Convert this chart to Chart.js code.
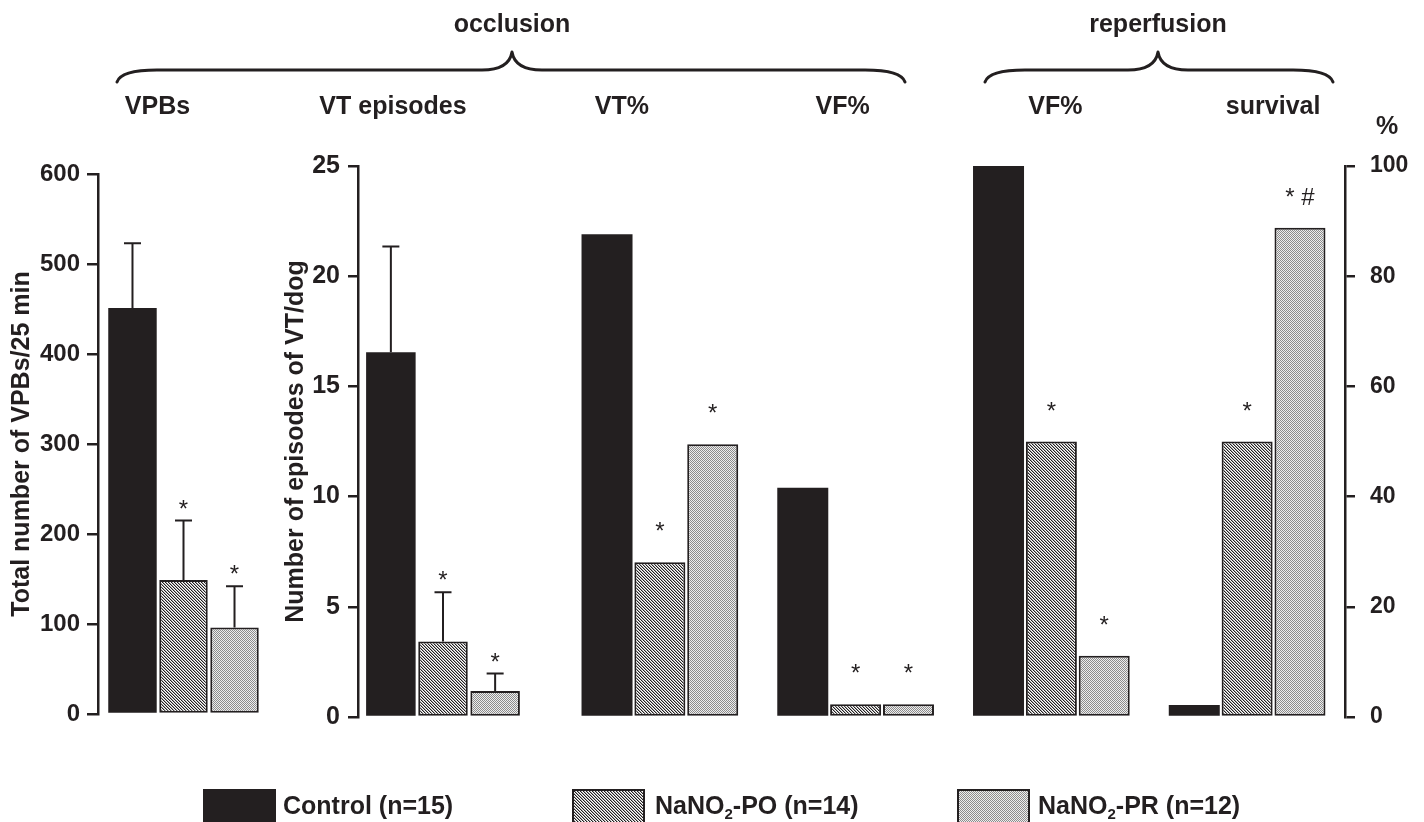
<!DOCTYPE html>
<html>
<head>
<meta charset="utf-8">
<script src="https://cdn.jsdelivr.net/npm/chart.js@4.4.1/dist/chart.umd.min.js"></script>
<style>
html,body{margin:0;padding:0;background:#fff;width:1424px;height:822px;overflow:hidden;position:relative;
  font-family:"Liberation Sans",Arial,Helvetica,sans-serif;color:#231f20}
canvas.chart{position:absolute;left:0;top:0}
.lgtxt{position:absolute;top:793px;font-weight:bold;font-size:25px;line-height:25px;white-space:nowrap}
.lgtxt sub{font-size:15px;vertical-align:-5px;line-height:0}
.sw{position:absolute;top:789px}
</style>
</head>
<body>
<canvas id="c1" class="chart" width="1424" height="822"></canvas>
<canvas id="c2" class="chart" width="1424" height="822"></canvas>
<canvas id="c3" class="chart" width="1424" height="822"></canvas>
<div id="legend"></div>
<script>
// ---------------- DATA ----------------
const seriesNames = ['Control (n=15)', 'NaNO₂-PO (n=14)', 'NaNO₂-PR (n=12)'];
const phaseLabels = ['occlusion', 'reperfusion'];

// VPBs panel (left axis 0-600)
const vpbCategories = ['VPBs'];
const vpbControl = [451];
const vpbPO = [149];
const vpbPR = [96];
const vpbSemControl = [72];
const vpbSemPO = [66];
const vpbSemPR = [46];
const vpbSigControl = [''];
const vpbSigPO = ['*'];
const vpbSigPR = ['*'];
const vpbTickMax = 600, vpbTickStep = 100;
const vpbTitle = 'Total number of VPBs/25 min';

// VT episodes panel (left axis 0-25)
const vtCategories = ['VT episodes'];
const vtControl = [16.55];
const vtPO = [3.42];
const vtPR = [1.18];
const vtSemControl = [4.8];
const vtSemPO = [2.24];
const vtSemPR = [0.79];
const vtSigControl = [''];
const vtSigPO = ['*'];
const vtSigPR = ['*'];
const vtTickMax = 25, vtTickStep = 5;
const vtTitle = 'Number of episodes of VT/dog';

// Percentage panel (right axis 0-100 %)
const pctCategories = ['VT%', 'VF%', 'VF%', 'survival'];
const pctControl = [87.6, 41.6, 100, 2.2];
const pctPO = [28.1, 2.3, 50, 50];
const pctPR = [49.5, 2.3, 11.1, 88.8];
const pctSigControl = ['', '', '', ''];
const pctSigPO = ['*', '*', '*', '*'];
const pctSigPR = ['*', '*', '*', '* #'];
const pctTickMax = 100, pctTickStep = 20;
const pctUnit = '%';

// ---------------- LAYOUT / STYLE ----------------
const INK = '#231f20';
const FONT = '"Liberation Sans", Arial, Helvetica, sans-serif';
const headerShift = [-26, -50, -38, -13, 4, 26];
const braces = [
  {x1: 117, x2: 905, xm: 512},
  {x1: 985, x2: 1333, xm: 1158}
];

Chart.defaults.font.family = FONT;
Chart.defaults.color = INK;

function makePattern(ctx, kind) {
  const t = document.createElement('canvas');
  const x = t.getContext('2d');
  if (kind === 'hatch') {
    t.width = 3; t.height = 3;
    x.fillStyle = '#ffffff'; x.fillRect(0, 0, 3, 3);
    for (let r = 0; r < 3; r++) {
      x.fillStyle = INK; x.fillRect(r, r, 1, 1);
      x.fillStyle = '#a8a8a8'; x.fillRect((r + 1) % 3, r, 1, 1);
    }
  } else {
    t.width = 2; t.height = 2;
    x.fillStyle = '#eeeeee'; x.fillRect(0, 0, 2, 2);
    x.fillStyle = '#8c8c8c'; x.fillRect(0, 0, 1, 1); x.fillRect(1, 1, 1, 1);
  }
  return ctx.createPattern(t, 'repeat');
}

function styles(ctx) {
  return [
    {bg: INK, bw: 0},
    {bg: makePattern(ctx, 'hatch'), bw: 2},
    {bg: makePattern(ctx, 'dots'), bw: 2}
  ];
}

function makeDatasets(ctx, values, sems, sigs, axisId) {
  const st = styles(ctx);
  return values.map((v, k) => ({
    label: seriesNames[k],
    data: v,
    sem: sems ? sems[k] : null,
    sig: sigs[k],
    backgroundColor: st[k].bg,
    borderColor: INK,
    borderWidth: st[k].bw,
    borderSkipped: false,
    yAxisID: axisId
  }));
}

function yAxis(max, step, cfg) {
  return {
    position: cfg.position || 'left',
    min: 0, max: max,
    ticks: {stepSize: step, font: {size: cfg.tickFont, weight: 'bold'}, color: INK, padding: cfg.tickPad},
    grid: {drawOnChartArea: false, drawTicks: true, tickLength: cfg.tickLen, tickWidth: 2.5,
           tickColor: INK, color: INK, lineWidth: 2.5},
    border: {display: true, width: 2.5, color: INK},
    title: cfg.title ? {display: true, text: cfg.title, color: INK,
                        font: {size: 25, weight: 'bold'}, padding: {top: cfg.titlePad, bottom: 0}}
                     : {display: false},
    afterFit: s => { s.width = cfg.width; }
  };
}

const annot = {
  id: 'annot',
  afterDatasetsDraw(chart) {
    const ctx = chart.ctx;
    ctx.save();
    chart.data.datasets.forEach((d, di) => {
      const meta = chart.getDatasetMeta(di);
      const ys = chart.scales[meta.yAxisID];
      d.data.forEach((v, i) => {
        const el = meta.data[i];
        if (!el) return;
        const x = el.x, yTop = el.y;
        let yRef = yTop, gap = 36;
        const e = d.sem ? d.sem[i] : 0;
        if (e) {
          const yE = ys.getPixelForValue(v + e);
          ctx.strokeStyle = INK; ctx.lineWidth = 2;
          ctx.beginPath();
          ctx.moveTo(x, yTop); ctx.lineTo(x, yE);
          ctx.moveTo(x - 8.5, yE); ctx.lineTo(x + 8.5, yE);
          ctx.stroke();
          yRef = yE; gap = 17;
        }
        const s = d.sig ? d.sig[i] : '';
        if (s) {
          ctx.fillStyle = INK;
          ctx.font = '24px ' + FONT;
          ctx.textAlign = 'center';
          ctx.textBaseline = 'alphabetic';
          ctx.fillText(s, x, yRef - gap + 13);
        }
      });
    });
    ctx.restore();
  }
};

function baseOptions(padding, yScales, catPct, barPct) {
  return {
    responsive: false,
    animation: false,
    devicePixelRatio: 1,
    layout: {padding: padding},
    plugins: {legend: {display: false}, tooltip: {enabled: false}, title: {display: false}},
    datasets: {bar: {categoryPercentage: catPct, barPercentage: barPct}},
    scales: Object.assign({x: {display: false, offset: true}}, yScales)
  };
}

// ---------------- CHART 1: VPBs ----------------
const ctx1 = document.getElementById('c1').getContext('2d');
const chart1 = new Chart(ctx1, {
  type: 'bar',
  data: {
    labels: vpbCategories,
    datasets: makeDatasets(ctx1, [vpbControl, vpbPO, vpbPR],
      [vpbSemControl, vpbSemPO, vpbSemPR], [vpbSigControl, vpbSigPO, vpbSigPR], 'y')
  },
  options: baseOptions({left: 0, right: 1155, top: 174, bottom: 108},
    {y: yAxis(vpbTickMax, vpbTickStep, {width: 98, tickLen: 11, tickPad: 7, tickFont: 24, title: vpbTitle, titlePad: 7})},
    0.895, 0.95),
  plugins: [annot]
});

// ---------------- CHART 2: VT episodes ----------------
const ctx2 = document.getElementById('c2').getContext('2d');
const chart2 = new Chart(ctx2, {
  type: 'bar',
  data: {
    labels: vtCategories,
    datasets: makeDatasets(ctx2, [vtControl, vtPO, vtPR],
      [vtSemControl, vtSemPO, vtSemPR], [vtSigControl, vtSigPO, vtSigPR], 'y')
  },
  options: baseOptions({left: 270, right: 896, top: 166, bottom: 105},
    {y: yAxis(vtTickMax, vtTickStep, {width: 88, tickLen: 10, tickPad: 8, tickFont: 25, title: vtTitle, titlePad: 11})},
    0.92, 0.95),
  plugins: [annot]
});

// ---------------- CHART 3: percentages ----------------
function drawBrace(ctx, b, yEnd, yLine, yTip) {
  ctx.beginPath();
  ctx.moveTo(b.x1, yEnd);
  ctx.quadraticCurveTo(b.x1 + 4, yLine, b.x1 + 40, yLine);
  ctx.lineTo(b.xm - 30, yLine);
  ctx.quadraticCurveTo(b.xm - 3, yLine, b.xm, yTip);
  ctx.quadraticCurveTo(b.xm + 3, yLine, b.xm + 30, yLine);
  ctx.lineTo(b.x2 - 40, yLine);
  ctx.quadraticCurveTo(b.x2 - 4, yLine, b.x2, yEnd);
  ctx.stroke();
}

const headers = {
  id: 'headers',
  afterDraw(chart) {
    const ctx = chart.ctx;
    ctx.save();
    ctx.fillStyle = INK;
    ctx.strokeStyle = INK;
    ctx.font = 'bold 25px ' + FONT;
    ctx.textAlign = 'center';
    ctx.textBaseline = 'alphabetic';
    const names = [...vpbCategories, ...vtCategories, ...pctCategories];
    const centers = [];
    vpbCategories.forEach((c, i) => centers.push(chart1.scales.x.getPixelForValue(i)));
    vtCategories.forEach((c, i) => centers.push(chart2.scales.x.getPixelForValue(i)));
    pctCategories.forEach((c, i) => centers.push(chart.scales.x.getPixelForValue(i)));
    names.forEach((n, i) => ctx.fillText(n, centers[i] + headerShift[i], 114));
    phaseLabels.forEach((p, i) => ctx.fillText(p, braces[i].xm, 32));
    ctx.lineWidth = 3;
    ctx.lineCap = 'round';
    ctx.lineJoin = 'round';
    braces.forEach(b => drawBrace(ctx, b, 82, 70, 52));
    const ya = chart.scales.y;
    ctx.fillText(pctUnit, ya.left + 42, 134);
    ctx.restore();
  }
};

const ctx3 = document.getElementById('c3').getContext('2d');
const chart3 = new Chart(ctx3, {
  type: 'bar',
  data: {
    labels: pctCategories,
    datasets: makeDatasets(ctx3, [pctControl, pctPO, pctPR],
      null, [pctSigControl, pctSigPO, pctSigPR], 'y')
  },
  options: baseOptions({left: 562, right: 0, top: 166, bottom: 105},
    {y: yAxis(pctTickMax, pctTickStep, {position: 'right', width: 79, tickLen: 10, tickPad: 15, tickFont: 23})},
    0.81, 0.965),
  plugins: [annot, headers]
});

// ---------------- LEGEND ----------------
const legendPos = [{sw: 203, tx: 283}, {sw: 572, tx: 655}, {sw: 957, tx: 1038}];
const legend = document.getElementById('legend');
seriesNames.forEach((name, k) => {
  const c = document.createElement('canvas');
  c.width = 73; c.height = 40;
  c.className = 'sw';
  c.style.left = legendPos[k].sw + 'px';
  const x = c.getContext('2d');
  const st = styles(x)[k];
  x.fillStyle = st.bg;
  x.fillRect(0, 0, 73, 40);
  if (st.bw) { x.strokeStyle = INK; x.lineWidth = 2; x.strokeRect(1, 1, 71, 38); }
  legend.appendChild(c);
  const t = document.createElement('div');
  t.className = 'lgtxt';
  t.style.left = legendPos[k].tx + 'px';
  t.innerHTML = name.replace('₂', '<sub>2</sub>');
  legend.appendChild(t);
});
</script>
</body>
</html>
